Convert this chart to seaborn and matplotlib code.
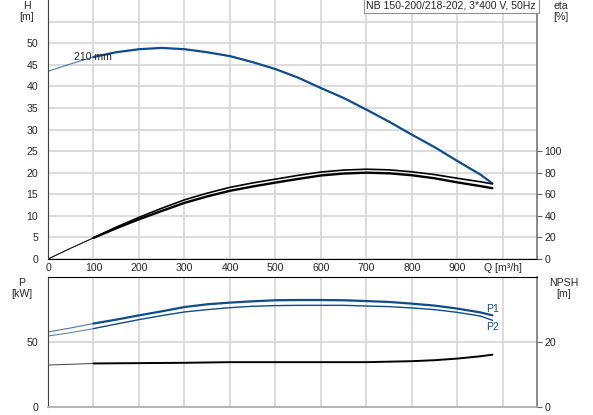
import matplotlib
matplotlib.use("Agg")
import matplotlib.pyplot as plt
import numpy as np
import pandas as pd
import seaborn as sns

# flow [m3/h] and head [m]
q_h = [0, 50, 100, 150, 200, 250, 300, 350, 400, 450, 500, 550, 600, 650,
       700, 750, 800, 850, 900, 950, 977]
head = [43.5, 45.2, 46.8, 47.9, 48.6, 48.9, 48.6, 47.9, 47.0, 45.6, 44.0,
        42.0, 39.6, 37.3, 34.6, 31.8, 28.8, 25.9, 22.7, 19.6, 17.5]

# efficiency [%]
q_eta = [0, 50, 100, 150, 200, 250, 300, 350, 400, 450, 500, 550, 600, 650,
         700, 750, 800, 850, 900, 950, 977]
eta_1 = [0, 10.0, 19.6, 29.5, 38.6, 47.0, 54.8, 61.0, 66.4, 70.5, 74.0, 77.5,
         80.6, 82.4, 83.2, 82.6, 80.8, 78.2, 74.8, 71.6, 69.6]
eta_2 = [0, 10.0, 19.6, 28.5, 36.8, 44.5, 52.0, 58.0, 63.2, 67.2, 70.8, 74.2,
         77.4, 79.2, 80.0, 79.4, 77.6, 74.8, 71.0, 67.6, 65.6]

# power [kW]
q_p = [0, 50, 100, 150, 200, 250, 300, 350, 400, 450, 500, 550, 600, 650,
       700, 750, 800, 850, 900, 950, 977]
p1 = [57.7, 60.8, 64.2, 67.2, 70.5, 73.6, 76.9, 79.0, 80.3, 81.3, 82.1, 82.3,
      82.3, 82.1, 81.5, 80.8, 79.5, 78.0, 75.7, 72.8, 70.5]
p2 = [54.6, 57.2, 60.3, 63.8, 67.2, 70.3, 73.1, 74.9, 76.4, 77.5, 78.0, 78.2,
      78.2, 78.2, 77.7, 77.2, 76.2, 74.9, 72.8, 70.0, 66.7]

# NPSH [m]
q_npsh = [0, 100, 200, 300, 400, 500, 600, 700, 800, 850, 900, 950, 977]
npsh = [12.9, 13.4, 13.5, 13.6, 13.8, 13.8, 13.8, 13.8, 14.1, 14.4, 14.9,
        15.6, 16.1]

x_ticks = [0, 100, 200, 300, 400, 500, 600, 700, 800, 900, 1000]
x_labels = ["0", "100", "200", "300", "400", "500", "600", "700", "800",
            "900", "Q [m\u00b3/h]"]

title = "NB 150-200/218-202, 3*400 V, 50Hz"

blue = "#0f4c8a"
grid_c = "#d6d6d6"
fs = 7.6

sns.set_style("white")
plt.rcParams["font.family"] = ["Liberation Sans", "DejaVu Sans"]
plt.rcParams["font.size"] = fs

fig = plt.figure(figsize=(5.93, 4.15), dpi=100)
W, H = 593.0, 415.0
x0, x1 = 48 / W, 537 / W
ax = fig.add_axes([x0, (H - 259) / H, x1 - x0, 259 / H])
axb = fig.add_axes([x0, (H - 407) / H, x1 - x0, 130 / H])


def draw(axis, xs, ys, color, lw_thin, lw, cut=100):
    # thin extrapolated part below cut, full line above
    xs = np.asarray(xs, float)
    ys = np.asarray(ys, float)
    lo = xs <= cut
    hi = xs >= cut
    sns.lineplot(x=xs[lo], y=ys[lo], ax=axis, color=color, lw=lw_thin, alpha=0.75)
    df = pd.DataFrame({"q": xs[hi], "v": ys[hi]})
    sns.lineplot(data=df, x="q", y="v", ax=axis, color=color, lw=lw)


# ---- top: head + efficiency
draw(ax, q_h, head, blue, 0.8, 1.6)
# eta drawn on H scale (100 % = 25 m)
draw(ax, q_eta, np.array(eta_1) / 4, "black", 0.7, 1.2)
draw(ax, q_eta, np.array(eta_2) / 4, "black", 0.7, 1.7)

ax.set_xlim(0, 1075)
ax.set_ylim(0, 60)
ax.set_xticks(x_ticks)
ax.set_xticklabels(x_labels)
ax.set_yticks(np.arange(0, 55, 5))
ax.set_yticks([55], minor=True)
ax.grid(True, which="both", color=grid_c, lw=1.2)
ax.set_axisbelow(True)
ax.tick_params(which="both", length=0, labelsize=fs)
ax.tick_params(axis="y", pad=7)
ax.tick_params(axis="x", pad=3)
ax.set_xlabel("")
ax.set_ylabel("")
ax.spines["top"].set_visible(False)
ax.spines["bottom"].set_color("black")
ax.spines["left"].set_color("#404040")
ax.spines["right"].set_color("#808080")
ax.spines["right"].set_linewidth(1.3)

ax_eta = ax.twinx()
ax_eta.set_ylim(0, 240)
ax_eta.set_yticks(np.arange(0, 120, 20))
ax_eta.tick_params(length=3.5, width=0.8, color="#606060", pad=2, labelsize=fs)
for s in ax_eta.spines.values():
    s.set_visible(False)

ax.text(57, 46.8, "210 mm", fontsize=fs, ha="left", va="center")
ax.text(0.998, 0.998, title, transform=ax.transAxes, ha="right", va="top",
        fontsize=fs,
        bbox=dict(boxstyle="square,pad=0.25", fc="white", ec="#909090", lw=0.8))

fig.text(27 / W, 1 - 6 / H, "H", ha="center", va="center", fontsize=fs)
fig.text(27 / W, 1 - 17 / H, "[m]", ha="center", va="center", fontsize=fs)
fig.text(561 / W, 1 - 6 / H, "eta", ha="center", va="center", fontsize=fs)
fig.text(561 / W, 1 - 17 / H, "[%]", ha="center", va="center", fontsize=fs)

# ---- bottom: power + NPSH
draw(axb, q_p, p1, blue, 0.8, 1.6)
draw(axb, q_p, p2, blue, 0.7, 1.0)
draw(axb, q_npsh, np.array(npsh) / 0.4, "black", 0.7, 1.4)

axb.set_xlim(0, 1075)
axb.set_ylim(0, 100)
axb.set_xticks(x_ticks)
axb.set_xticklabels([])
axb.set_yticks([0, 50])
axb.grid(True, color=grid_c, lw=1.2)
axb.set_axisbelow(True)
axb.tick_params(length=0, pad=7, labelsize=fs)
axb.set_xlabel("")
axb.set_ylabel("")
axb.spines["top"].set_color("black")
axb.spines["left"].set_color("#404040")
axb.spines["bottom"].set_color("#b0b0b0")
axb.spines["bottom"].set_linewidth(1.3)
axb.spines["right"].set_color("#808080")
axb.spines["right"].set_linewidth(1.3)

ax_n = axb.twinx()
ax_n.set_ylim(0, 40)
ax_n.set_yticks([0, 20])
ax_n.tick_params(length=3.5, width=0.8, color="#606060", pad=2, labelsize=fs)
for s in ax_n.spines.values():
    s.set_visible(False)

axb.text(963, 75.5, "P1", color=blue, fontsize=fs, ha="left", va="center")
axb.text(963, 61.3, "P2", color=blue, fontsize=fs, ha="left", va="center")

fig.text(22 / W, 1 - 283 / H, "P", ha="center", va="center", fontsize=fs)
fig.text(22 / W, 1 - 294 / H, "[kW]", ha="center", va="center", fontsize=fs)
fig.text(564 / W, 1 - 283 / H, "NPSH", ha="center", va="center", fontsize=fs)
fig.text(564 / W, 1 - 294 / H, "[m]", ha="center", va="center", fontsize=fs)

fig.savefig("out.png", dpi=100)
